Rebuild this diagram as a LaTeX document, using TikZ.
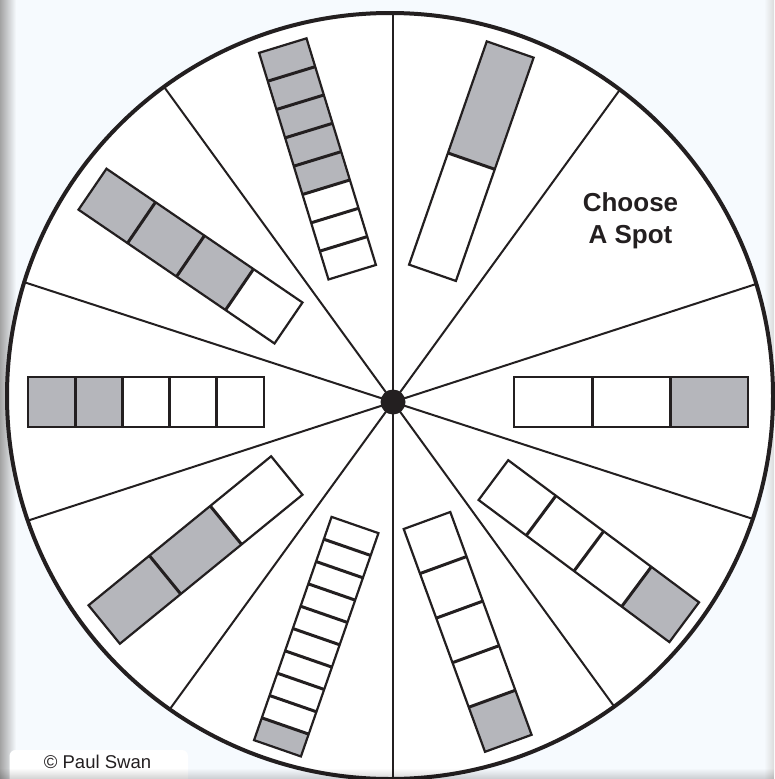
\documentclass[tikz,border=0pt]{standalone}
\usepackage{fontspec}
\setmainfont{Liberation Sans}
\usetikzlibrary{calc}
\definecolor{ink}{HTML}{231F20}
\definecolor{page}{HTML}{F6FAFE}
\definecolor{cellgrey}{RGB}{181,182,187}
\tikzset{
  spoke/.style={draw=ink, line width=2pt},
  rim/.style={draw=ink, line width=4pt},
  barline/.style={draw=ink, line width=2.2pt, line join=miter},
  divline/.style={draw=ink, line width=3pt},
  label/.style={font=\bfseries\fontsize{26}{31}\selectfont, text=ink, anchor=base, inner sep=0pt},
  credit/.style={font=\fontsize{18.5}{22}\selectfont, text=ink, anchor=base, inner sep=0pt},
}
\newcommand\tallybar[6]{%
  \coordinate (A) at (#1,#2);
  \coordinate (B) at (#3,#4);
  \coordinate (N) at ($($(A)!24.8pt!90:(B)$)-(A)$);
  \pgfmathtruncatemacro\firstgrey{#5-#6+1}%
  \foreach \i in {1,...,#5}{%
    \pgfmathsetmacro\fa{(\i-1)/#5}%
    \pgfmathsetmacro\fb{\i/#5}%
    \coordinate (P) at ($(A)!\fa!(B)$);
    \coordinate (Q) at ($(A)!\fb!(B)$);
    \ifnum\i<\firstgrey\relax \def\cc{white}\else\def\cc{cellgrey}\fi
    \fill[\cc] ($(P)+(N)$) -- ($(P)-(N)$) -- ($(Q)-(N)$) -- ($(Q)+(N)$) -- cycle;
  }%
  \pgfmathtruncatemacro\nm{#5-1}%
  \foreach \i in {1,...,\nm}{%
    \pgfmathsetmacro\fa{\i/#5}%
    \coordinate (P) at ($(A)!\fa!(B)$);
    \draw[divline] ($(P)+(N)$) -- ($(P)-(N)$);
  }%
  \draw[barline] ($(A)+(N)$) -- ($(A)-(N)$) -- ($(B)-(N)$) -- ($(B)+(N)$) -- cycle;
}
\begin{document}
\begin{tikzpicture}[x=1pt,y=-1pt]
\useasboundingbox (0,0) rectangle (774,779);
\fill[page] (0,0) rectangle (774,779);
% page shadows
\shade[left color=black!36, right color=page] (0,0) rectangle (16,779);
\shade[left color=page, right color=black!14] (764,0) rectangle (774,779);

% wheel
\coordinate (O) at (390,396);
\coordinate (H) at (393,402);
\fill[white] (O) circle[radius=383];
\begin{scope}
  \clip (O) circle[radius=383];
  \foreach \a in {90,54,18,-18,-54,-90,-126,-162,162,126}
    \draw[spoke] (H) -- ++(\a:560);
\end{scope}
\draw[rim] (O) circle[radius=383];
\fill[ink] (H) circle[radius=12.5];

% bars: inner mid, outer mid, parts, grey parts (outer end)
\tallybar{432.5}{272.8}{510.2}{49.5}{2}{1}
\tallybar{352.2}{272.2}{282.8}{45.6}{8}{5}
\tallybar{288.5}{323}{92.5}{189.2}{4}{3}
\tallybar{264}{402}{28}{402}{5}{2}
\tallybar{286.8}{475.5}{104.2}{624.5}{3}{2}
\tallybar{355}{525}{277.5}{748.3}{10}{1}
\tallybar{427}{520.5}{508.3}{743.3}{5}{1}
\tallybar{493.4}{480.1}{684.2}{622.2}{4}{1}
\tallybar{514}{402}{748}{402}{3}{1}

% text
\node[label] (choose) at (630.5,211.7) {Choose};
\node[label] (spot) at (630.5,243.3) {A Spot};

% credit box
\begin{scope}
  \clip (0,0) rectangle (774,779);
  \fill[white, rounded corners=6pt] (9.5,750) rectangle (188,792);
  \foreach \k in {0,...,10}
    \fill[black, opacity=0.016*\k] (0,768+\k) rectangle (774,769+\k);
\end{scope}
\node[credit] (paul) at (97.5,768.3) {© Paul Swan};
\end{tikzpicture}
\end{document}
